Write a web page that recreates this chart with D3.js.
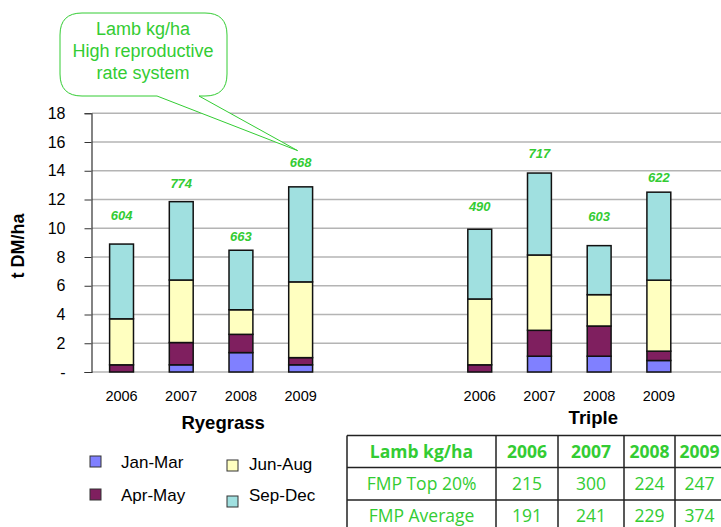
<!DOCTYPE html>
<html>
<head>
<meta charset="utf-8">
<script src="https://cdn.jsdelivr.net/npm/d3@7"></script>
<style>
  body { margin: 0; background: #fff; }
  svg { font-family: "Liberation Sans", Arial, sans-serif; }
</style>
</head>
<body>
<script>
// chart data
var years = ["2006", "2007", "2008", "2009"];
var groups = ["Ryegrass", "Triple"];
var seasons = ["Jan-Mar", "Apr-May", "Jun-Aug", "Sep-Dec"];
var seasonColors = ["#8080ff", "#7f1f5f", "#ffffc0", "#a0e0e0"];

// growth t DM/ha per season, one row per year
var ryegrass = [
  [0.0, 0.5, 3.2, 5.2],
  [0.5, 1.55, 4.35, 5.45],
  [1.35, 1.27, 1.71, 4.14],
  [0.5, 0.5, 5.27, 6.61]
];
var triple = [
  [0.0, 0.5, 4.58, 4.85],
  [1.1, 1.8, 5.24, 5.7],
  [1.1, 2.1, 2.18, 3.41],
  [0.8, 0.65, 4.94, 6.12]
];

// lamb kg/ha labels and the height (t DM/ha) where they sit
var ryeLamb = [604, 774, 663, 668];
var ryeLambY = [10.9, 13.1, 9.4, 14.6];
var tripleLamb = [490, 717, 603, 622];
var tripleLambY = [11.5, 15.2, 10.85, 13.5];

var yTicks = [0, 2, 4, 6, 8, 10, 12, 14, 16, 18];

// table values
var tableHeader = ["Lamb kg/ha", "2006", "2007", "2008", "2009"];
var fmpTop = ["FMP Top 20%", 215, 300, 224, 247];
var fmpAvg = ["FMP Average", 191, 241, 229, 374];

var green = "#33cc33";

var svg = d3.select("body").append("svg")
    .attr("width", 721)
    .attr("height", 527);

// slots: 4 ryegrass, 2 empty, 4 triple
var slots = years.map(function(y) { return "R" + y; })
    .concat(["gap1", "gap2"])
    .concat(years.map(function(y) { return "T" + y; }));

var x = d3.scaleBand()
    .domain(slots)
    .range([91.7, 688.7])
    .paddingInner(0.6)
    .paddingOuter(0.3);

var y = d3.scaleLinear()
    .domain([0, 18])
    .range([372, 113.25]);

// gridlines
svg.append("g").selectAll("line")
    .data(yTicks)
  .enter().append("line")
    .attr("x1", 92).attr("x2", 721)
    .attr("y1", function(d) { return y(d); })
    .attr("y2", function(d) { return y(d); })
    .attr("stroke", "#b4b4b4")
    .attr("stroke-width", 1.5);

// y axis
var yAxis = d3.axisLeft(y)
    .tickValues(yTicks)
    .tickSize(7)
    .tickPadding(18)
    .tickFormat(function(d) { return d === 0 ? "-" : d; });

var ax = svg.append("g")
    .attr("transform", "translate(91.5,0)")
    .call(yAxis);
ax.select(".domain").attr("stroke", "#333").attr("stroke-width", 1.2);
ax.selectAll(".tick line").attr("stroke", "#333");
ax.selectAll("text")
    .style("font-size", "16px")
    .style("font-family", "Liberation Sans, Arial, sans-serif")
    .attr("x", -26)
    .attr("fill", "#000");

svg.append("text")
    .attr("transform", "translate(24,246) rotate(-90)")
    .attr("text-anchor", "middle")
    .style("font-size", "18px")
    .style("font-weight", "bold")
    .text("t DM/ha");

// stacked bars
function buildRows(prefix, rows) {
  return rows.map(function(r, i) {
    var o = { slot: prefix + years[i] };
    seasons.forEach(function(s, j) { o[s] = r[j]; });
    return o;
  });
}
var rows = buildRows("R", ryegrass).concat(buildRows("T", triple));
var stacked = d3.stack().keys(seasons)(rows);

svg.append("g").selectAll("g")
    .data(stacked)
  .enter().append("g")
    .attr("fill", function(d, i) { return seasonColors[i]; })
  .selectAll("rect")
    .data(function(d) { return d; })
  .enter().append("rect")
    .attr("x", function(d) { return x(d.data.slot); })
    .attr("width", x.bandwidth())
    .attr("y", function(d) { return y(d[1]); })
    .attr("height", function(d) { return y(d[0]) - y(d[1]); })
    .attr("stroke", "#111")
    .attr("stroke-width", 1.5);

// lamb labels above bars
var lambData = years.map(function(yr, i) {
  return { slot: "R" + yr, v: ryeLamb[i], h: ryeLambY[i] };
}).concat(years.map(function(yr, i) {
  return { slot: "T" + yr, v: tripleLamb[i], h: tripleLambY[i] };
}));

svg.append("g").selectAll("text")
    .data(lambData)
  .enter().append("text")
    .attr("x", function(d) { return x(d.slot) + x.bandwidth() / 2; })
    .attr("y", function(d) { return y(d.h); })
    .attr("dy", "0.35em")
    .attr("text-anchor", "middle")
    .attr("fill", green)
    .style("font-size", "13px")
    .style("font-weight", "bold")
    .style("font-style", "italic")
    .text(function(d) { return d.v; });

// year labels
var yearLabels = slots.filter(function(s) { return s.indexOf("gap") < 0; });
svg.append("g").selectAll("text")
    .data(yearLabels)
  .enter().append("text")
    .attr("x", function(d) { return x(d) + x.bandwidth() / 2; })
    .attr("y", 401)
    .attr("text-anchor", "middle")
    .style("font-size", "14.5px")
    .text(function(d) { return d.slice(1); });

// group labels
svg.append("text")
    .attr("x", (x("R2007") + x("R2008")) / 2 + x.bandwidth() / 2 + 12)
    .attr("y", 428.5)
    .attr("text-anchor", "middle")
    .style("font-size", "18.5px")
    .style("font-weight", "bold")
    .text(groups[0]);

svg.append("text")
    .attr("x", (x("T2007") + x("T2008")) / 2 + x.bandwidth() / 2 + 24)
    .attr("y", 423.5)
    .attr("text-anchor", "middle")
    .style("font-size", "18.5px")
    .style("font-weight", "bold")
    .text(groups[1]);

// callout bubble pointing at 668
var tip = [x("R2009") + x.bandwidth() / 2 - 3, y(15.4)];
svg.append("path")
    .attr("d", "M82,13 H205 Q227,13 227,35 V74 Q227,96 205,96 H199 L" + tip[0] + "," + tip[1] +
               " L157,96 H82 Q60,96 60,74 V35 Q60,13 82,13 Z")
    .attr("fill", "#fff")
    .attr("stroke", green)
    .attr("stroke-width", 1);

svg.append("g").selectAll("text")
    .data(["Lamb kg/ha", "High reproductive", "rate system"])
  .enter().append("text")
    .attr("x", 143)
    .attr("y", function(d, i) { return 35 + i * 22; })
    .attr("text-anchor", "middle")
    .attr("fill", green)
    .style("font-size", "18px")
    .text(function(d) { return d; });

// legend
var legendPos = [[90, 456], [90, 489], [227, 460], [227, 496]];
var legendTextY = [6, 6, 4, -1];
var leg = svg.append("g").selectAll("g")
    .data(seasons)
  .enter().append("g")
    .attr("transform", function(d, i) {
      return "translate(" + legendPos[i][0] + "," + legendPos[i][1] + ")";
    });
leg.append("rect")
    .attr("width", 11).attr("height", 11)
    .attr("fill", function(d, i) { return seasonColors[i]; })
    .attr("stroke", "#333")
    .attr("stroke-width", 1);
leg.append("text")
    .attr("x", function(d, i) { return i < 2 ? 31 : 22; })
    .attr("y", function(d, i) { return legendTextY[i]; })
    .attr("dy", "0.35em")
    .style("font-size", "17px")
    .text(function(d) { return d; });

// lamb table
var colX = [347, 496, 558, 624, 675, 724];
var rowY = [435.5, 467.5, 500, 532];
var tableRows = [tableHeader, fmpTop, fmpAvg];
var tbl = svg.append("g");

tableRows.forEach(function(r, ri) {
  r.forEach(function(cell, ci) {
    tbl.append("text")
      .attr("x", (colX[ci] + colX[ci + 1]) / 2)
      .attr("y", (rowY[ri] + rowY[ri + 1]) / 2)
      .attr("dy", "0.36em")
      .attr("text-anchor", "middle")
      .attr("fill", green)
      .style("font-family", "Open Sans, sans-serif")
      .style("font-size", "17.5px")
      .style("font-weight", ri === 0 ? "bold" : "normal")
      .text(cell);
  });
});

rowY.forEach(function(ry) {
  tbl.append("line")
    .attr("x1", colX[0]).attr("x2", 721)
    .attr("y1", ry).attr("y2", ry)
    .attr("stroke", "#222").attr("stroke-width", 1.5);
});
colX.slice(0, 5).forEach(function(cx) {
  tbl.append("line")
    .attr("x1", cx).attr("x2", cx)
    .attr("y1", rowY[0]).attr("y2", 527)
    .attr("stroke", "#222").attr("stroke-width", 1.5);
});
</script>
</body>
</html>
